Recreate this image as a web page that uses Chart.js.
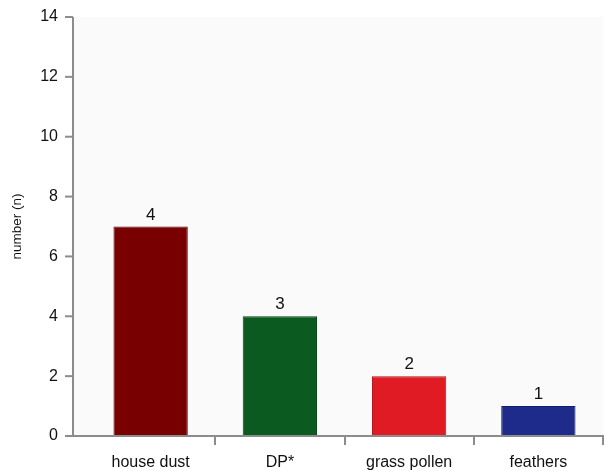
<!DOCTYPE html>
<html lang="en">
<head>
    <meta charset="UTF-8">
    <title>Allergens</title>
    <script src="https://cdn.jsdelivr.net/npm/chart.js"></script>
    <style>
        html, body {
            margin: 0;
            padding: 0;
            background: #ffffff;
        }
        .wrap {
            width: 604px;
            height: 471px;
        }
    </style>
</head>
<body>
    <div class="wrap">
        <canvas id="allergenChart" width="604" height="471"></canvas>
    </div>
    <script>
        // data
        const categories = ["house dust", "DP*", "grass pollen", "feathers"];
        const counts = [7, 4, 2, 1];
        const rankLabels = ["4", "3", "2", "1"];
        const barColors = ["#780000", "#0b5a1f", "#e01b24", "#1f2b8a"];
        const barBorders = ["#5c0000", "#084414", "#b01218", "#16206a"];
        const yTicks = [0, 2, 4, 6, 8, 10, 12, 14];

        const AXIS_GAP = 13; // y axis sits a bit left of the first category
        const axisColor = "#8c8c8c";
        const fontFamily = "'Liberation Sans', Arial, sans-serif";

        // draws the axis lines, y tick marks and the numbers above the bars
        const axesAndLabels = {
            id: "axesAndLabels",
            beforeDatasetsDraw(chart) {
                const { ctx, chartArea } = chart;
                const axisX = chartArea.left - AXIS_GAP;
                ctx.save();
                ctx.fillStyle = "#fafafa";
                ctx.fillRect(axisX, chartArea.top, chartArea.right - axisX, chartArea.bottom - chartArea.top);
                ctx.restore();
            },
            afterDatasetsDraw(chart) {
                const { ctx, chartArea, scales } = chart;
                const y = scales.y;
                const axisX = chartArea.left - AXIS_GAP;
                const y0 = y.getPixelForValue(0);
                ctx.save();
                ctx.strokeStyle = axisColor;
                ctx.lineWidth = 2;
                ctx.beginPath();
                ctx.moveTo(axisX, y.getPixelForValue(yTicks[yTicks.length - 1]));
                ctx.lineTo(axisX, y0);
                ctx.lineTo(chartArea.right + 2, y0);
                ctx.stroke();
                yTicks.forEach(v => {
                    const py = y.getPixelForValue(v);
                    ctx.beginPath();
                    ctx.moveTo(axisX - 8, py);
                    ctx.lineTo(axisX, py);
                    ctx.stroke();
                });

                const meta = chart.getDatasetMeta(0);
                ctx.fillStyle = "#111";
                ctx.font = "17px " + fontFamily;
                ctx.textAlign = "center";
                ctx.textBaseline = "bottom";
                meta.data.forEach((bar, i) => {
                    ctx.fillText(rankLabels[i], bar.x, bar.y - 3);
                });
                ctx.restore();
            }
        };

        new Chart(document.getElementById("allergenChart"), {
            type: "bar",
            data: {
                labels: categories,
                datasets: [{
                    data: counts,
                    backgroundColor: barColors,
                    borderColor: barBorders,
                    borderWidth: 1,
                    categoryPercentage: 1,
                    barPercentage: 0.575
                }]
            },
            options: {
                responsive: false,
                animation: false,
                layout: {
                    padding: { top: 17, right: 1, left: 0, bottom: 0 }
                },
                plugins: {
                    legend: { display: false },
                    tooltip: { enabled: false }
                },
                scales: {
                    x: {
                        offset: true,
                        border: { display: false },
                        grid: {
                            offset: true,
                            drawOnChartArea: false,
                            tickLength: 9,
                            lineWidth: 2,
                            color: c => (c.index === 0 ? "rgba(0,0,0,0)" : axisColor)
                        },
                        ticks: {
                            color: "#111",
                            padding: 8,
                            font: { family: fontFamily, size: 16 }
                        },
                        afterFit: s => { s.height = 35; }
                    },
                    y: {
                        min: 0,
                        max: 14,
                        border: { display: false },
                        grid: {
                            drawOnChartArea: false,
                            drawTicks: true,
                            tickLength: 8,
                            color: "rgba(0,0,0,0)"
                        },
                        ticks: {
                            stepSize: 2,
                            color: "#111",
                            padding: 20,
                            font: { family: fontFamily, size: 16 }
                        },
                        title: {
                            display: true,
                            text: "number (n)",
                            color: "#111",
                            padding: { top: 9, bottom: 0 },
                            font: { family: fontFamily, size: 13.5 }
                        },
                        afterFit: s => {
                            s.width = 86;
                            s.paddingTop = 0;
                            s.paddingBottom = 0;
                        }
                    }
                }
            },
            plugins: [axesAndLabels]
        });
    </script>
</body>
</html>
